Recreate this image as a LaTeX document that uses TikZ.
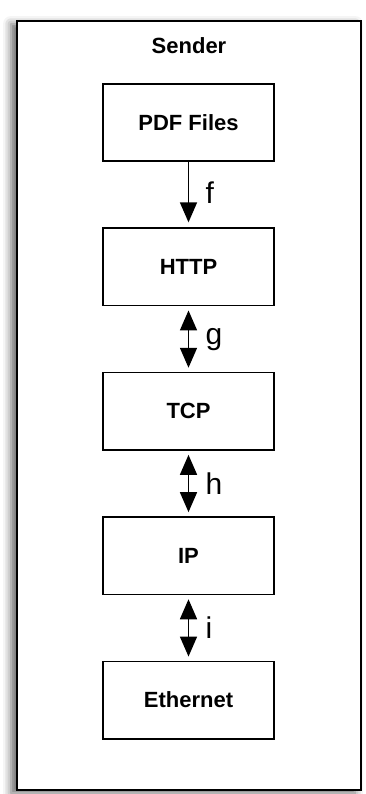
\documentclass[tikz,border=0pt]{standalone}
\usepackage{fontspec}
\setmainfont{Liberation Sans}
\usepackage{tikz}
\usetikzlibrary{positioning,arrows.meta,shadows.blur}
\tikzstyle{senderframe} = [draw=black, fill=white, line width=1.8pt, rectangle, minimum width=344pt, minimum height=769pt, blur shadow={shadow xshift=-6pt, shadow yshift=-3pt, shadow blur radius=8pt, shadow opacity=60}]
\tikzstyle{layerbox} = [draw=black, fill=white, line width=1.6pt, rectangle, minimum width=171.5pt, minimum height=77.5pt, font=\fontsize{22}{26}\selectfont\bfseries]
\tikzstyle{linkarrow} = [line width=1.6pt, -{Triangle[length=20pt,width=17pt]}]
\tikzstyle{duplexarrow} = [line width=1.6pt, {Triangle[length=20pt,width=17pt]}-{Triangle[length=20pt,width=17pt]}]
\tikzstyle{linklabel} = [font=\fontsize{30}{34}\selectfont, right=13pt, midway]

\begin{document}
\begin{tikzpicture}
\useasboundingbox (0,0) rectangle (365pt,-794pt);
\node [senderframe] (frame) at (189pt,-405.5pt) {};
\node [font=\fontsize{22}{26}\selectfont\bfseries] (sender) at (189pt,-46pt) {Sender};

\node [layerbox] (pdf) at (188.5pt,-122.5pt) {PDF Files};
\node [layerbox, below=65.3pt of pdf] (http) {HTTP};
\node [layerbox, below=65.3pt of http] (tcp) {TCP};
\node [layerbox, below=65.3pt of tcp] (ip) {IP};
\node [layerbox, below=65.3pt of ip] (eth) {Ethernet};

\draw [linkarrow] (pdf.south) -- ([yshift=5pt]http.north) node [linklabel] {f};
\draw [duplexarrow] ([yshift=-4pt]http.south) -- ([yshift=4pt]tcp.north) node [linklabel] {g};
\draw [duplexarrow] ([yshift=-4pt]tcp.south) -- ([yshift=4pt]ip.north) node [linklabel] {h};
\draw [duplexarrow] ([yshift=-4pt]ip.south) -- ([yshift=4pt]eth.north) node [linklabel] {i};
\end{tikzpicture}
\end{document}
